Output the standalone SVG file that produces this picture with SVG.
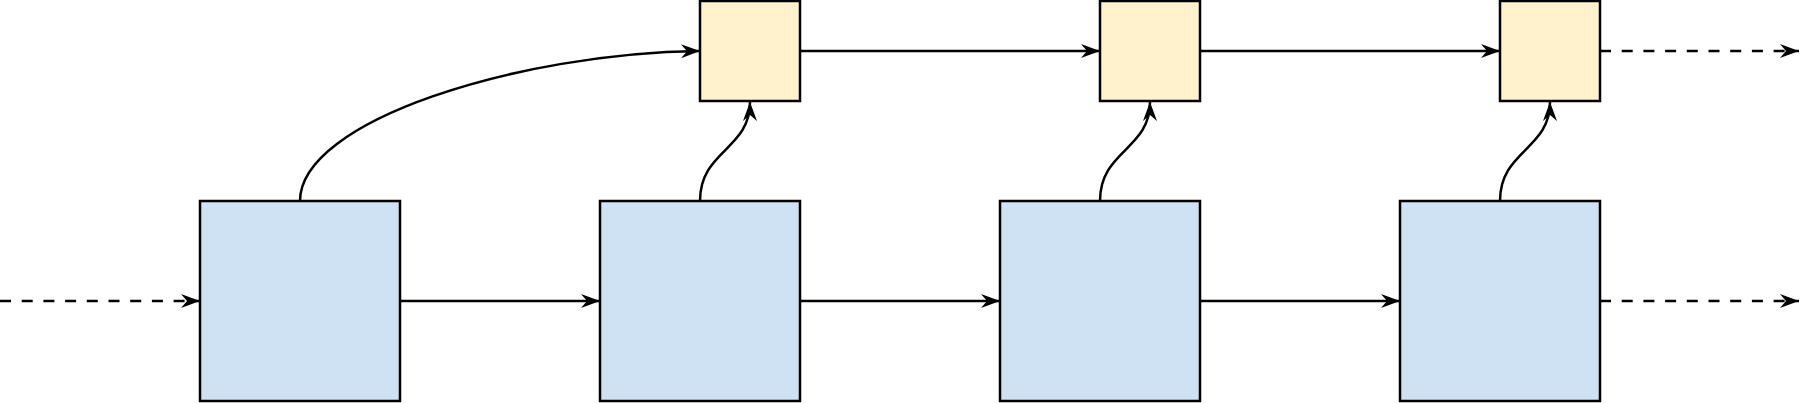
<svg xmlns="http://www.w3.org/2000/svg" width="1800" height="403" viewBox="0 0 1800 403">
<style>
.blue{fill:#cfe2f3;stroke:#000;stroke-width:2.5}
.yellow{fill:#fff2cc;stroke:#000;stroke-width:2.5}
.edge{fill:none;stroke:#000;stroke-width:2.5;marker-end:url(#arr)}
.dash{stroke-dasharray:11 10.7}
</style>
<defs>
<marker id="arr" markerUnits="userSpaceOnUse" markerWidth="24" markerHeight="20" viewBox="-20 -10 22 20" refX="0" refY="0" orient="auto">
<path d="M0,0 L-19,-7 L-13,0 L-19,7 Z" fill="#000"/>
</marker>
</defs>
<g id="b1"><rect class="blue" x="200" y="201" width="200" height="200"/></g>
<g id="b2"><rect class="blue" x="600" y="201" width="200" height="200"/></g>
<g id="b3"><rect class="blue" x="1000" y="201" width="200" height="200"/></g>
<g id="b4"><rect class="blue" x="1400" y="201" width="200" height="200"/></g>
<g id="y1"><rect class="yellow" x="700" y="1" width="100" height="100"/></g>
<g id="y2"><rect class="yellow" x="1100" y="1" width="100" height="100"/></g>
<g id="y3"><rect class="yellow" x="1500" y="1" width="100" height="100"/></g>
<g id="connectors">
<path class="edge dash" d="M0,301 L200,301"/>
<path class="edge" d="M400,301 L600,301"/>
<path class="edge" d="M800,301 L1000,301"/>
<path class="edge" d="M1200,301 L1400,301"/>
<path class="edge dash" d="M1600,301 L1799,301"/>
<path class="edge" d="M300,201 C300,120 520,53 700,51"/>
<path class="edge" d="M800,51 L1100,51"/>
<path class="edge" d="M1200,51 L1500,51"/>
<path class="edge dash" d="M1600,51 L1799,51"/>
<path class="edge" d="M700,201 C700,150 750,150 750,102"/>
<path class="edge" d="M1100,201 C1100,150 1150,150 1150,102"/>
<path class="edge" d="M1500,201 C1500,150 1550,150 1550,102"/>
</g>
</svg>
